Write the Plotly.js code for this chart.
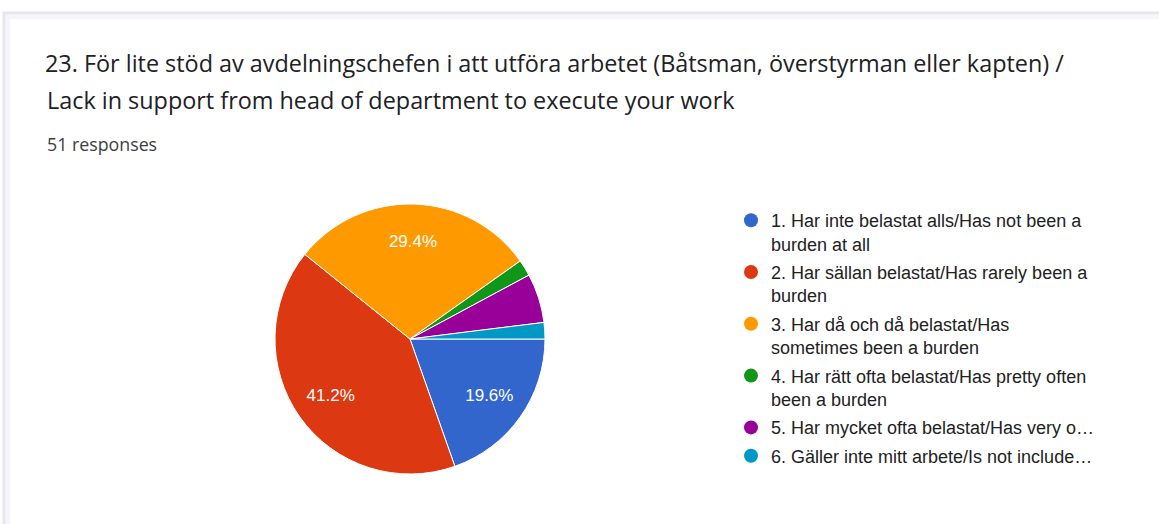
<!DOCTYPE html>
<html>
<head>
<meta charset="utf-8">
<script src="https://cdn.plot.ly/plotly-3.0.1.min.js"></script>
<style>
  html, body { margin: 0; padding: 0; background: #ffffff; }
  #chart { width: 1159px; height: 524px; }
</style>
</head>
<body>
<div id="chart"></div>
<script>
// ---- data ----
const titleLines = [
  "23. För lite stöd av avdelningschefen i att utföra arbetet (Båtsman, överstyrman eller kapten) /",
  "Lack in support from head of department to execute your work"
];
const responsesText = "51 responses";
const categories = [
  "1. Har inte belastat alls/Has not been a<br>burden at all",
  "2. Har sällan belastat/Has rarely been a<br>burden",
  "3. Har då och då belastat/Has<br>sometimes been a burden",
  "4. Har rätt ofta belastat/Has pretty often<br>been a burden",
  "5. Har mycket ofta belastat/Has very o…",
  "6. Gäller inte mitt arbete/Is not include…"
];
const counts = [10, 21, 15, 1, 3, 1];

// ---- styles ----
const palette = ["#3366cc", "#dc3912", "#ff9900", "#109618", "#990099", "#0099c6"];
const W = 1159, H = 524;
const px = v => v / W;
const py = v => 1 - v / H;

const total = counts.reduce((a, b) => a + b, 0);
const labelTemplates = counts.map(v => (v / total >= 0.1 ? "%{percent:.1%}" : ""));
const pieDomain = { x: [px(275), px(545)], y: [py(474), py(204)] };

// coloured slices
const pie = {
  type: "pie",
  labels: categories,
  values: counts,
  sort: false,
  direction: "clockwise",
  rotation: 90,
  marker: { colors: palette, line: { color: "#ffffff", width: 1 } },
  textinfo: "none",
  hoverinfo: "none",
  showlegend: false,
  domain: pieDomain
};

// transparent ring on top that carries the percentage labels (placed at ~0.72 r)
const pieLabels = {
  type: "pie",
  labels: categories,
  values: counts,
  sort: false,
  direction: "clockwise",
  rotation: 90,
  hole: 0.44,
  marker: { colors: categories.map(() => "rgba(0,0,0,0)"), line: { width: 0 } },
  texttemplate: labelTemplates,
  textposition: "inside",
  insidetextorientation: "horizontal",
  insidetextfont: { family: "Liberation Sans, Arial, sans-serif", size: 17, color: "#ffffff" },
  hoverinfo: "none",
  showlegend: false,
  domain: pieDomain
};

const legendTraces = categories.map((c, i) => ({
  type: "scatter",
  mode: "markers",
  x: [null], y: [null],
  name: c,
  legendgroup: "g" + i,
  marker: { color: palette[i], size: 14, symbol: "circle" },
  hoverinfo: "none",
  showlegend: true
}));

const layout = {
  width: W, height: H,
  margin: { l: 0, r: 0, t: 0, b: 0 },
  paper_bgcolor: "#ffffff",
  plot_bgcolor: "rgba(0,0,0,0)",
  xaxis: { visible: false },
  yaxis: { visible: false },
  title: {
    text: titleLines[0],
    x: px(45), xanchor: "left", xref: "paper",
    y: py(64), yanchor: "middle", yref: "container",
    font: { family: "Open Sans, Roboto, sans-serif", size: 23.4, color: "#202124" }
  },
  annotations: [
    {
      text: titleLines[1], xref: "paper", yref: "paper",
      x: px(45), y: py(100), xanchor: "left", yanchor: "middle", showarrow: false,
      font: { family: "Open Sans, Roboto, sans-serif", size: 23.4, color: "#202124" }
    },
    {
      text: responsesText, xref: "paper", yref: "paper",
      x: px(45), y: py(144), xanchor: "left", yanchor: "middle", showarrow: false,
      font: { family: "Open Sans, Roboto, sans-serif", size: 17.8, color: "#3c4043" }
    }
  ],
  legend: {
    x: px(731), xanchor: "left",
    y: py(202), yanchor: "top",
    valign: "top",
    tracegroupgap: 2,
    bgcolor: "rgba(0,0,0,0)",
    font: { family: "Liberation Sans, Arial, sans-serif", size: 18, color: "#222222" }
  },
  shapes: [
    {
      type: "rect", xref: "paper", yref: "paper",
      x0: px(4), x1: 1.01, y0: -0.02, y1: py(13),
      line: { color: "#e6e6ee", width: 3 }, fillcolor: "rgba(0,0,0,0)", layer: "below"
    },
    {
      type: "rect", xref: "paper", yref: "paper",
      x0: px(8), x1: 1.01, y0: -0.02, y1: py(17),
      line: { color: "#f6f6fa", width: 4 }, fillcolor: "rgba(0,0,0,0)", layer: "below"
    }
  ],
  showlegend: true,
  hovermode: false
};

Plotly.newPlot("chart", [pie, pieLabels].concat(legendTraces), layout, { displayModeBar: false, staticPlot: true });
</script>
</body>
</html>
